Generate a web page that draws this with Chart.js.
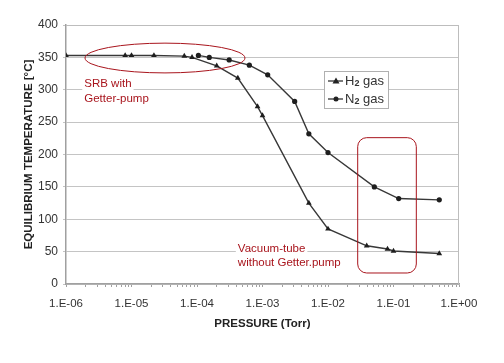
<!DOCTYPE html>
<html>
<head>
<meta charset="utf-8">
<script src="https://cdn.jsdelivr.net/npm/chart.js@4"></script>
<style>
  html, body { margin: 0; padding: 0; background: #fff; }
  #wrap { width: 504px; height: 363px; }
</style>
</head>
<body>
<div id="wrap"><canvas id="tempChart" width="504" height="363"></canvas></div>
<script>
// pressure (Torr) and equilibrium temperature (°C)
const h2Pressure = [1e-6, 8e-6, 1e-5, 2.2e-5, 6.4e-5, 8.4e-5, 2.0e-4, 4.2e-4, 8.4e-4, 1.0e-3, 5.1e-3, 1.0e-2, 3.9e-2, 8.1e-2, 0.1, 0.5];
const h2Temp     = [353, 353, 353, 353, 352, 350, 337, 318, 274, 260, 125, 85, 59, 54, 51, 47];

const n2Pressure = [1.05e-4, 1.54e-4, 3.1e-4, 6.3e-4, 1.2e-3, 3.1e-3, 5.1e-3, 1.0e-2, 5.1e-2, 0.12, 0.5];
const n2Temp     = [353, 350, 346, 338, 323, 282, 232, 203, 150, 132, 130];

const xTicks = [1e-6, 1e-5, 1e-4, 1e-3, 1e-2, 1e-1, 1];
const xLabels = ["1.E-06", "1.E-05", "1.E-04", "1.E-03", "1.E-02", "1.E-01", "1.E+00"];

const seriesNames = ["H2 gas", "N2 gas"];

function toPoints(xs, ys) {
    return xs.map((x, i) => ({ x: x, y: ys[i] }));
}

const RED = "#a8141c";
const FONT = "'Liberation Sans', Arial, sans-serif";

// annotations, frame and legend drawn on top of the chart
const extras = {
    id: "extras",
    beforeDatasetsDraw(chart) {
        const ctx = chart.ctx;
        const a = chart.chartArea;
        // frame of plot area: top + right
        ctx.save();
        ctx.strokeStyle = "#bdbdbd";
        ctx.lineWidth = 1;
        ctx.beginPath();
        ctx.moveTo(a.left, a.top + 0.5);
        ctx.lineTo(a.right - 0.5, a.top + 0.5);
        ctx.lineTo(a.right - 0.5, a.bottom);
        ctx.stroke();
        ctx.restore();
    },
    afterDatasetsDraw(chart) {
        const ctx = chart.ctx;
        const xs = chart.scales.x, ys = chart.scales.y;

        ctx.save();
        // ellipse around SRB points
        const eL = xs.getPixelForValue(1.95e-6), eR = xs.getPixelForValue(5.4e-4);
        const eT = ys.getPixelForValue(372), eB = ys.getPixelForValue(326);
        ctx.strokeStyle = RED;
        ctx.lineWidth = 1;
        ctx.beginPath();
        ctx.ellipse((eL + eR) / 2, (eT + eB) / 2, (eR - eL) / 2, (eB - eT) / 2, 0, 0, Math.PI * 2);
        ctx.stroke();

        // rounded rectangle around vacuum-tube points
        const rL = xs.getPixelForValue(2.84e-2), rR = xs.getPixelForValue(0.223);
        const rT = ys.getPixelForValue(226), rB = ys.getPixelForValue(17);
        ctx.beginPath();
        ctx.roundRect(rL, rT, rR - rL, rB - rT, 9);
        ctx.stroke();

        // red text labels with white backing
        ctx.font = "11.5px " + FONT;
        ctx.textBaseline = "middle";
        function label(text, px, py) {
            const w = ctx.measureText(text).width;
            ctx.fillStyle = "#fff";
            ctx.fillRect(px - 2, py - 7, w + 4, 14);
            ctx.fillStyle = RED;
            ctx.fillText(text, px, py);
        }
        label("SRB with", xs.getPixelForValue(1.9e-6), ys.getPixelForValue(309));
        label("Getter-pump", xs.getPixelForValue(1.9e-6), ys.getPixelForValue(286));
        label("Vacuum-tube", xs.getPixelForValue(4.2e-4), ys.getPixelForValue(55));
        label("without Getter.pump", xs.getPixelForValue(4.2e-4), ys.getPixelForValue(33));

        // legend box
        const lx = 324, ly = 71, lw = 64, lh = 37;
        ctx.fillStyle = "#fff";
        ctx.fillRect(lx, ly, lw, lh);
        ctx.strokeStyle = "#b0b0b0";
        ctx.strokeRect(lx + 0.5, ly + 0.5, lw, lh);
        const rows = [ly + 10, ly + 28];
        rows.forEach((ry, i) => {
            ctx.strokeStyle = "#333";
            ctx.lineWidth = 1.3;
            ctx.beginPath();
            ctx.moveTo(lx + 4, ry);
            ctx.lineTo(lx + 19, ry);
            ctx.stroke();
            ctx.fillStyle = "#222";
            ctx.beginPath();
            if (i === 0) {
                ctx.moveTo(lx + 12, ry - 3.5);
                ctx.lineTo(lx + 15.5, ry + 2.5);
                ctx.lineTo(lx + 8.5, ry + 2.5);
                ctx.closePath();
            } else {
                ctx.arc(lx + 12, ry, 2.5, 0, Math.PI * 2);
            }
            ctx.fill();
            const name = seriesNames[i];
            ctx.fillStyle = "#333";
            ctx.font = "13px " + FONT;
            ctx.textBaseline = "middle";
            let tx = lx + 21;
            ctx.fillText(name[0], tx, ry);
            tx += ctx.measureText(name[0]).width;
            ctx.font = "bold 9px " + FONT;
            ctx.fillText(name[1], tx, ry + 3);
            tx += ctx.measureText(name[1]).width;
            ctx.font = "13px " + FONT;
            ctx.fillText(name.slice(2), tx, ry);
        });
        ctx.restore();
    }
};

const ctx = document.getElementById("tempChart").getContext("2d");

const tempChart = new Chart(ctx, {
    type: "scatter",
    data: {
        datasets: [{
            label: seriesNames[0],
            data: toPoints(h2Pressure, h2Temp),
            showLine: true,
            borderColor: "#383838",
            backgroundColor: "#1e1e1e",
            borderWidth: 1.4,
            pointStyle: "triangle",
            pointRadius: 3.3,
            pointBorderWidth: 0,
            tension: 0
        }, {
            label: seriesNames[1],
            data: toPoints(n2Pressure, n2Temp),
            showLine: true,
            borderColor: "#383838",
            backgroundColor: "#1e1e1e",
            borderWidth: 1.4,
            pointStyle: "circle",
            pointRadius: 2.6,
            pointBorderWidth: 0,
            tension: 0
        }]
    },
    options: {
        animation: false,
        responsive: false,
        layout: { padding: { left: 0, right: 45, top: 25, bottom: 0 } },
        plugins: {
            legend: { display: false },
            tooltip: { enabled: false }
        },
        scales: {
            x: {
                type: "logarithmic",
                min: 1e-6,
                max: 1,
                afterFit(scale) { scale.height = 79; },
                afterBuildTicks(scale) {
                    const t = [];
                    for (let e = -6; e < 0; e++) {
                        for (let m = 1; m <= 9; m++) t.push({ value: m * Math.pow(10, e) });
                    }
                    t.push({ value: 1 });
                    scale.ticks = t;
                },
                ticks: {
                    autoSkip: false,
                    maxRotation: 0,
                    padding: 10,
                    color: "#333",
                    font: { family: FONT, size: 11.5 },
                    callback(value) {
                        const i = xTicks.findIndex(v => Math.abs(Math.log10(v) - Math.log10(value)) < 1e-6);
                        return i >= 0 ? xLabels[i] : "";
                    }
                },
                grid: {
                    drawOnChartArea: false,
                    drawTicks: true,
                    tickLength: 3,
                    color: "#a0a0a0"
                },
                border: { color: "#a0a0a0", width: 1.5 },
                title: {
                    display: true,
                    text: "PRESSURE (Torr)",
                    color: "#222",
                    font: { family: FONT, size: 11.5, weight: "bold" },
                    padding: { top: 5, bottom: 32 }
                }
            },
            y: {
                min: 0,
                max: 400,
                afterFit(scale) { scale.width = 66; },
                ticks: {
                    stepSize: 50,
                    padding: 5,
                    color: "#333",
                    font: { family: FONT, size: 12 }
                },
                grid: {
                    color: "#c4c4c4",
                    lineWidth: 1,
                    tickLength: 3
                },
                border: { color: "#a0a0a0", width: 1.5 },
                title: {
                    display: true,
                    text: "EQUILIBRIUM TEMPERATURE [°C]",
                    color: "#222",
                    font: { family: FONT, size: 11.5, weight: "bold" },
                    padding: { top: 22, bottom: 2 }
                }
            }
        }
    },
    plugins: [extras]
});
</script>
</body>
</html>
